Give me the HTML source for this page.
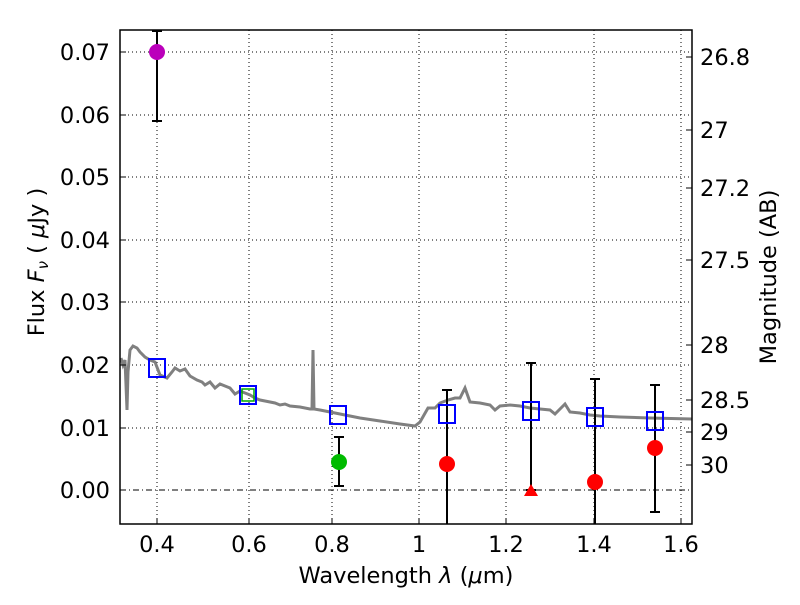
<!DOCTYPE html><html><head><style>body{margin:0;background:#fff}svg{font-family:"DejaVu Sans","Liberation Sans",sans-serif}</style></head><body>
<svg width="800" height="600" xmlns="http://www.w3.org/2000/svg">
<rect width="800" height="600" fill="#fff"/>
<g stroke="#000" stroke-width="1" stroke-dasharray="1,3">
<line x1="157" y1="30" x2="157" y2="524"/><line x1="249" y1="30" x2="249" y2="524"/><line x1="332" y1="30" x2="332" y2="524"/><line x1="419" y1="30" x2="419" y2="524"/><line x1="506" y1="30" x2="506" y2="524"/><line x1="594" y1="30" x2="594" y2="524"/><line x1="681" y1="30" x2="681" y2="524"/>
<line x1="120" y1="52" x2="692" y2="52"/><line x1="120" y1="115" x2="692" y2="115"/><line x1="120" y1="177" x2="692" y2="177"/><line x1="120" y1="240" x2="692" y2="240"/><line x1="120" y1="302" x2="692" y2="302"/><line x1="120" y1="365" x2="692" y2="365"/><line x1="120" y1="428" x2="692" y2="428"/>
</g>
<line x1="120" y1="490" x2="692" y2="490" stroke="#000" stroke-dasharray="6,3,1,3"/>
<polyline fill="none" stroke="#808080" stroke-width="3" points="121,358 123,365 125,360 127,410 128,372 130,350 133,346 137,348 140,352 145,357 150,360 155,362 160,375 167,378 172,372 175,368 180,371 185,369 190,376 197,380 202,382 205,385 210,382 215,388 220,384 225,386 230,388 235,394 240,391 245,393 250,395 255,398 260,400 265,401 275,403 280,405 285,404 290,406 300,407 310,409 312,409 313,350 314,409 320,410 340,414 360,418 380,421 400,424 415,426 420,422 428,408 435,408 440,403 448,400 455,398 460,398 465,388 470,402 480,403 490,405 495,410 500,406 510,405 520,406 530,408 540,409 550,410 555,414 560,409 565,404 570,412 580,413 590,415 600,416 620,417 650,418 692,419"/>
<rect x="242" y="389" width="12" height="12" fill="none" stroke="#0a0" stroke-width="1.5"/>
<g stroke="#000" stroke-width="2">
<line x1="157" y1="30" x2="157" y2="121"/><line x1="152" y1="121" x2="162" y2="121"/><line x1="152" y1="31" x2="162" y2="31"/>
<line x1="339" y1="437" x2="339" y2="486"/><line x1="334" y1="437" x2="344" y2="437"/><line x1="334" y1="486" x2="344" y2="486"/>
<line x1="447" y1="390" x2="447" y2="524"/><line x1="442" y1="390" x2="452" y2="390"/>
<line x1="531" y1="363" x2="531" y2="490"/><line x1="526" y1="363" x2="536" y2="363"/><line x1="526" y1="490" x2="536" y2="490"/>
<line x1="595" y1="379" x2="595" y2="524"/><line x1="590" y1="379" x2="600" y2="379"/>
<line x1="655" y1="385" x2="655" y2="512"/><line x1="650" y1="385" x2="660" y2="385"/><line x1="650" y1="512" x2="660" y2="512"/>
</g>
<circle cx="157" cy="52" r="8" fill="#b0b"/>
<circle cx="339" cy="462" r="8" fill="#0b0"/>
<circle cx="447" cy="464" r="8" fill="#f00"/>
<circle cx="595" cy="482" r="8" fill="#f00"/>
<circle cx="655" cy="448" r="8" fill="#f00"/>
<polygon points="531,484 538,496 524,496" fill="#f00"/>
<g fill="none" stroke="#00f" stroke-width="2">
<rect x="149" y="359" width="16" height="18"/><rect x="240" y="386" width="16" height="18"/><rect x="330" y="406" width="16" height="18"/><rect x="439" y="405" width="16" height="18"/><rect x="523" y="402" width="16" height="18"/><rect x="587" y="408" width="16" height="18"/><rect x="647" y="412" width="16" height="18"/>
</g>
<rect x="120" y="30" width="572" height="494" fill="none" stroke="#000" stroke-width="1.5"/>
<g stroke="#000">
<line x1="157" y1="524" x2="157" y2="518"/><line x1="249" y1="524" x2="249" y2="518"/><line x1="332" y1="524" x2="332" y2="518"/><line x1="419" y1="524" x2="419" y2="518"/><line x1="506" y1="524" x2="506" y2="518"/><line x1="594" y1="524" x2="594" y2="518"/><line x1="681" y1="524" x2="681" y2="518"/>
<line x1="120" y1="52" x2="126" y2="52"/><line x1="120" y1="115" x2="126" y2="115"/><line x1="120" y1="177" x2="126" y2="177"/><line x1="120" y1="240" x2="126" y2="240"/><line x1="120" y1="302" x2="126" y2="302"/><line x1="120" y1="365" x2="126" y2="365"/><line x1="120" y1="428" x2="126" y2="428"/><line x1="120" y1="490" x2="126" y2="490"/>
<line x1="692" y1="57" x2="686" y2="57"/><line x1="692" y1="130" x2="686" y2="130"/><line x1="692" y1="188" x2="686" y2="188"/><line x1="692" y1="260" x2="686" y2="260"/><line x1="692" y1="345" x2="686" y2="345"/><line x1="692" y1="400" x2="686" y2="400"/><line x1="692" y1="432" x2="686" y2="432"/><line x1="692" y1="465" x2="686" y2="465"/>
</g>
<g font-size="22.5" text-anchor="end">
<text x="110" y="60">0.07</text><text x="110" y="123">0.06</text><text x="110" y="185">0.05</text><text x="110" y="248">0.04</text><text x="110" y="310">0.03</text><text x="110" y="373">0.02</text><text x="110" y="436">0.01</text><text x="110" y="498">0.00</text>
</g>
<g font-size="22.5" text-anchor="middle">
<text x="157" y="552">0.4</text><text x="249" y="552">0.6</text><text x="332" y="552">0.8</text><text x="419" y="552">1</text><text x="506" y="552">1.2</text><text x="594" y="552">1.4</text><text x="681" y="552">1.6</text>
<text x="406" y="583">Wavelength  <tspan font-style="italic">λ</tspan> (<tspan font-style="italic">μ</tspan>m)</text>
</g>
<g font-size="22.5">
<text x="700" y="65">26.8</text><text x="700" y="138">27</text><text x="700" y="196">27.2</text><text x="700" y="268">27.5</text><text x="700" y="353">28</text><text x="700" y="408">28.5</text><text x="700" y="440">29</text><text x="700" y="473">30</text>
</g>
<text transform="translate(44,262) rotate(-90)" font-size="22.5" text-anchor="middle">Flux  <tspan font-style="italic">F<tspan font-size="15" dy="4">ν</tspan></tspan><tspan dy="-4">  ( </tspan><tspan font-style="italic">μ</tspan>Jy )</text>
<text transform="translate(776,277) rotate(-90)" font-size="22.5" text-anchor="middle">Magnitude (AB)</text>
</svg>
</body></html>
